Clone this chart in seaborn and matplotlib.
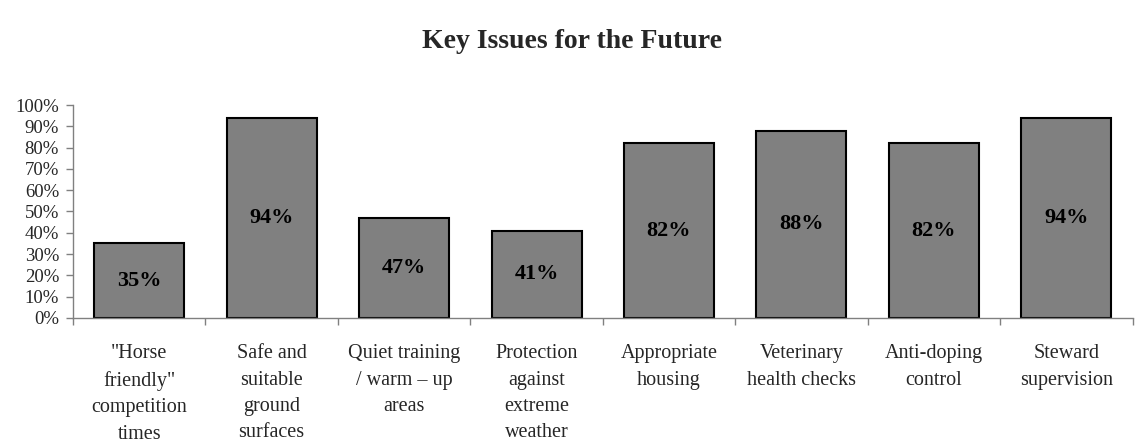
import matplotlib
matplotlib.use("Agg")
import matplotlib.pyplot as plt
import seaborn as sns
import pandas as pd
from matplotlib.ticker import FixedLocator, PercentFormatter

categories = ['"Horse\nfriendly"\ncompetition\ntimes',
              'Safe and\nsuitable\nground\nsurfaces',
              'Quiet training\n/ warm \u2013 up\nareas',
              'Protection\nagainst\nextreme\nweather',
              'Appropriate\nhousing',
              'Veterinary\nhealth checks',
              'Anti-doping\ncontrol',
              'Steward\nsupervision']
values = [35, 94, 47, 41, 82, 88, 82, 94]
yticks = list(range(0, 101, 10))

sns.set_theme(style="white")
plt.rcParams['font.family'] = ['Liberation Serif', 'DejaVu Serif']

df = pd.DataFrame({"cat": categories, "val": values})

fig = plt.figure(figsize=(11.44, 4.47), dpi=100)
ax = fig.add_axes([0.0638, 0.2886, 0.9262, 0.4765])
sns.barplot(data=df, x="cat", y="val", color="#808080", saturation=1,
            edgecolor="black", linewidth=1.5, width=0.68, ax=ax)

n = len(categories)
ax.set_xlim(-0.5, n - 0.5)
ax.set_ylim(0, 100)
ax.set_xlabel("")
ax.set_ylabel("")

# major ticks at category boundaries, labels at centers (minor)
ax.xaxis.set_major_locator(FixedLocator([i - 0.5 for i in range(n + 1)]))
ax.xaxis.set_minor_locator(FixedLocator(list(range(n))))
ax.set_xticklabels([], minor=False)
ax.set_xticklabels(categories, minor=True, fontsize=14.5, linespacing=1.52,
                   ha="center", va="top")
ax.tick_params(axis="x", which="major", direction="out", length=5, width=1,
               color="#808080", bottom=True)
ax.tick_params(axis="x", which="minor", length=0, pad=19, bottom=True)

ax.set_yticks(yticks)
ax.yaxis.set_major_formatter(PercentFormatter(decimals=0))
ax.tick_params(axis="y", direction="out", length=5, width=1, color="#808080",
               left=True, labelsize=13.5, pad=5)

for s in ["top", "right"]:
    ax.spines[s].set_visible(False)
for s in ["left", "bottom"]:
    ax.spines[s].set_color("#808080")
    ax.spines[s].set_linewidth(1)

for i, v in enumerate(values):
    ax.text(i, v / 2, f"{v}%", ha="center", va="center",
            fontsize=16, fontweight="bold", color="black")

fig.suptitle("Key Issues for the Future", x=0.5, y=0.935,
             fontsize=20, fontweight="bold")

fig.savefig("out.png", dpi=100)
